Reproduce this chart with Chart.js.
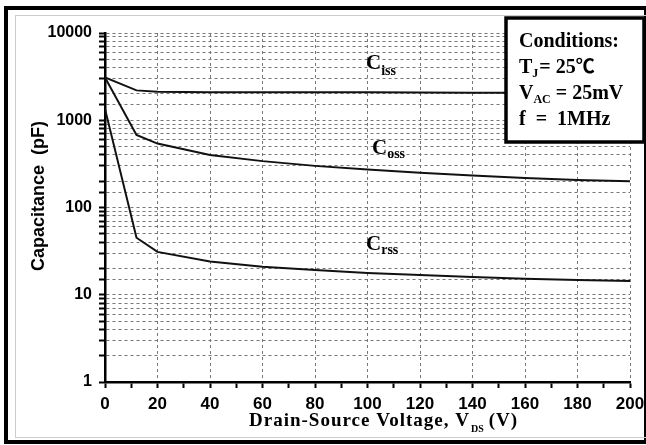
<!DOCTYPE html>
<html lang="en">
<head>
    <meta charset="UTF-8">
    <title>Capacitance vs Drain-Source Voltage</title>
    <script src="https://cdn.jsdelivr.net/npm/chart.js"></script>
    <style>
        body { margin: 0; background: #fff; overflow: hidden; }
        #wrap { width: 646px; height: 445px; }
    </style>
</head>
<body>
    <div id="wrap"><canvas id="capChart" width="646" height="445"></canvas></div>
    <script>
        // Drain-source voltage (V) where the curves were read
        const vds = [0, 12, 20, 40, 60, 80, 100, 120, 140, 160, 180, 200];
        // capacitances in pF
        const ciss = [3100, 2200, 2120, 2100, 2100, 2095, 2090, 2080, 2070, 2060, 2050, 2050];
        const coss = [3100, 680, 540, 400, 340, 300, 272, 250, 232, 218, 207, 200];
        const crss = [1350, 45, 31, 24, 21, 19.2, 17.8, 16.8, 16, 15.3, 14.8, 14.4];
        const xTickLabels = [0, 20, 40, 60, 80, 100, 120, 140, 160, 180, 200];
        const yTickLabels = [1, 10, 100, 1000, 10000];

        const serif = "'Liberation Serif', 'Times New Roman', serif";
        const sans = "'Liberation Sans', Arial, sans-serif";
        const gridDash = [3, 3];
        const gridColor = '#777';

        function drawSub(ctx, x, y, main, sub, size, subSize, drop) {
            ctx.font = 'bold ' + size + 'px ' + serif;
            ctx.fillText(main, x, y);
            const w = ctx.measureText(main).width;
            ctx.font = 'bold ' + subSize + 'px ' + serif;
            ctx.fillText(sub, x + w, y + drop);
            return x + w + ctx.measureText(sub).width;
        }

        const decorations = {
            id: 'decorations',
            beforeDraw(chart) {
                const ctx = chart.ctx;
                ctx.save();
                ctx.fillStyle = '#fff';
                ctx.fillRect(0, 0, chart.width, chart.height);
                ctx.restore();
            },
            afterDraw(chart) {
                const ctx = chart.ctx;
                ctx.save();
                // outer frame
                ctx.strokeStyle = '#000';
                ctx.lineWidth = 4;
                ctx.strokeRect(6, 8, 640, 434);
                ctx.strokeStyle = '#ccc';
                ctx.lineWidth = 1;
                ctx.strokeRect(15.5, 15.5, 640, 422);

                ctx.fillStyle = '#000';
                ctx.textBaseline = 'alphabetic';

                // y title
                ctx.save();
                ctx.translate(44, 196);
                ctx.rotate(-Math.PI / 2);
                ctx.textAlign = 'center';
                ctx.font = 'bold 18px ' + sans;
                ctx.fillText('Capacitance  (pF)', 0, 0);
                ctx.restore();

                // x title
                ctx.textAlign = 'left';
                ctx.letterSpacing = '1px';
                ctx.font = 'bold 19px ' + serif;
                const part1 = 'Drain-Source Voltage, V';
                ctx.fillText(part1, 249, 426);
                let x = 249 + ctx.measureText(part1).width;
                ctx.letterSpacing = '0px';
                ctx.font = 'bold 10px ' + serif;
                ctx.fillText('DS', x + 1, 432);
                x += ctx.measureText('DS').width + 6;
                ctx.letterSpacing = '1px';
                ctx.font = 'bold 19px ' + serif;
                ctx.fillText('(V)', x, 426);
                ctx.letterSpacing = '0px';

                // curve labels
                drawSub(ctx, 366, 69, 'C', 'iss', 21, 14, 6);
                drawSub(ctx, 372, 154, 'C', 'oss', 21, 14, 4);
                drawSub(ctx, 366, 250, 'C', 'rss', 21, 14, 4);

                // conditions box
                ctx.fillStyle = '#fff';
                ctx.fillRect(505, 17, 140, 126);
                ctx.strokeStyle = '#000';
                ctx.lineWidth = 3.5;
                ctx.strokeRect(506, 18, 138, 124);
                ctx.fillStyle = '#000';
                ctx.font = 'bold 20px ' + serif;
                ctx.fillText('Conditions:', 519, 47);
                let xe = drawSub(ctx, 519, 73, 'T', 'J', 20, 12, 4);
                ctx.font = 'bold 20px ' + serif;
                ctx.fillText('= 25', xe + 1, 73);
                xe += 1 + ctx.measureText('= 25').width;
                ctx.font = 'bold 19px "Noto Sans CJK SC"';
                ctx.fillText('\u2103', xe, 73);
                xe = drawSub(ctx, 519, 99, 'V', 'AC', 20, 12, 4);
                ctx.font = 'bold 20px ' + serif;
                ctx.fillText(' = 25mV', xe, 99);
                ctx.fillText('f  =  1MHz', 519, 125);
                ctx.restore();
            }
        };

        const lineStyle = {
            borderColor: '#111',
            borderWidth: 2,
            pointRadius: 0,
            tension: 0,
            fill: false
        };

        const ctx = document.getElementById('capChart').getContext('2d');
        new Chart(ctx, {
            type: 'line',
            data: {
                datasets: [
                    Object.assign({ label: 'Ciss', data: vds.map((v, i) => ({ x: v, y: ciss[i] })) }, lineStyle),
                    Object.assign({ label: 'Coss', data: vds.map((v, i) => ({ x: v, y: coss[i] })) }, lineStyle),
                    Object.assign({ label: 'Crss', data: vds.map((v, i) => ({ x: v, y: crss[i] })) }, lineStyle)
                ]
            },
            options: {
                responsive: false,
                animation: false,
                devicePixelRatio: 1,
                layout: { padding: { left: 0, right: 16, top: 33, bottom: 0 } },
                plugins: {
                    legend: { display: false },
                    tooltip: { enabled: false }
                },
                scales: {
                    x: {
                        type: 'linear',
                        min: 0,
                        max: 200,
                        afterFit(scale) {
                            scale.height = 63;
                            scale.paddingRight = 0;
                            scale.paddingLeft = 0;
                        },
                        ticks: {
                            stepSize: 10,
                            autoSkip: false,
                            maxRotation: 0,
                            padding: 6,
                            color: '#000',
                            font: { family: sans, size: 17, weight: 'bold' },
                            callback: (v) => xTickLabels.includes(v) ? String(v) : ''
                        },
                        grid: {
                            color: (c) => (c.tick && xTickLabels.includes(c.tick.value)) ? gridColor : 'transparent',
                            lineWidth: 1,
                            borderDash: gridDash,
                            tickColor: '#000',
                            tickWidth: 2,
                            tickLength: 6
                        },
                        border: { display: true, color: '#000', width: 2.5, dash: gridDash }
                    },
                    y: {
                        type: 'logarithmic',
                        min: 1,
                        max: 10000,
                        afterFit(scale) { scale.width = 105; },
                        ticks: {
                            autoSkip: false,
                            padding: 7,
                            color: '#000',
                            font: { family: sans, size: 16, weight: 'bold' },
                            callback: (v) => yTickLabels.includes(v) ? String(v) : ''
                        },
                        grid: {
                            color: gridColor,
                            lineWidth: 1,
                            borderDash: gridDash,
                            tickColor: '#000',
                            tickWidth: 2,
                            tickLength: 6
                        },
                        border: { display: true, color: '#000', width: 2.5, dash: gridDash }
                    }
                }
            },
            plugins: [decorations]
        });
    </script>
</body>
</html>
